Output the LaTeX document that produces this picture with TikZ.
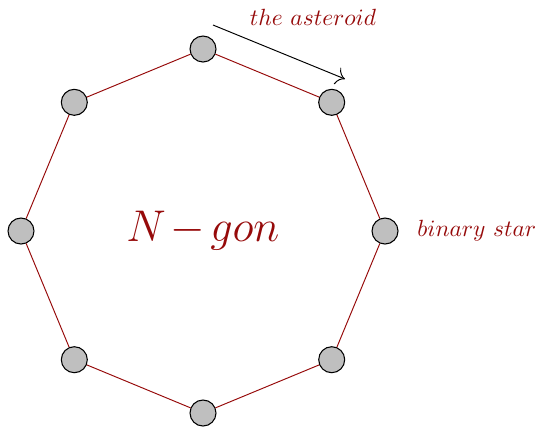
\documentclass[tikz,border=0pt]{standalone}
\usetikzlibrary{arrows.meta}
\definecolor{dred}{RGB}{150,10,10}
\begin{document}
\begin{tikzpicture}[x=0.4673pt,y=-0.4673pt,
  vert/.style={circle,draw=black,fill=gray!50,minimum size=26*0.4673pt,inner sep=0pt,line width=0.5pt},
  edge/.style={draw=dred,line width=0.45pt},
  lbl/.style={text=dred,font=\fontsize{11}{13}\selectfont,inner sep=0pt}]
\useasboundingbox (0,0) rectangle (539,426);
\foreach \i in {0,...,7} {
  \node[vert] (v\i) at ({203+182*cos(45*\i)},{231-182*sin(45*\i)}) {};
}
\foreach \i [evaluate=\i as \j using {int(mod(\i+1,8))}] in {0,...,7} {
  \draw[edge] (v\i) -- (v\j);
}
\node[text=dred,font=\fontsize{20}{24}\selectfont] (title) at (203,231) {$N\mskip2mu{-}\mskip2mu gon$};
\node[lbl,anchor=west] (bin) at (417,231) {$binary\ star$};
\node[lbl] (ast) at (313,17) {$the\ asteroid$};
\coordinate (a0) at (213,25);
\coordinate (a1) at (345,79);
\draw[-{To[length=4pt]},line width=0.45pt] (a0) -- (a1);
\end{tikzpicture}
\end{document}
